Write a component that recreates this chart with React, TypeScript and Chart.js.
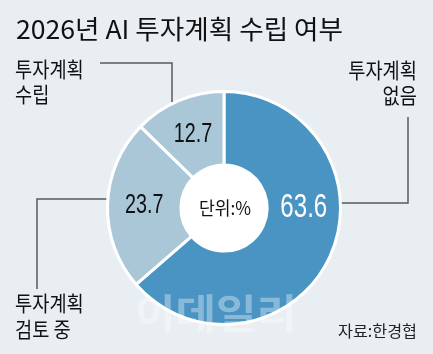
import React, { useEffect, useRef } from "react";
import { Chart, registerables } from "chart.js";

Chart.register(...registerables);

const categories = ["투자계획 없음", "투자계획 검토 중", "투자계획 수립"];
const values = [63.6, 23.7, 12.7];
const valueLabels = ["63.6", "23.7", "12.7"];
const titleText = "2026년 AI 투자계획 수립 여부";
const unitText = "단위:%";
const sourceText = "자료:한경협";
const watermarkText = "이데일리";

const BG = "#e9eef2";
const DARK = "#4a94c3";
const LIGHT = "#aac7d8";
const KR = '"Noto Sans CJK KR", "Noto Sans", sans-serif';
const NUM = '"Liberation Sans", Arial, sans-serif';

function drawText(
  ctx: CanvasRenderingContext2D,
  text: string,
  x: number,
  y: number,
  font: string,
  color: string,
  align: "left" | "right" | "center",
  scaleX: number
) {
  ctx.save();
  ctx.font = font;
  ctx.fillStyle = color;
  ctx.textBaseline = "middle";
  ctx.textAlign = align;
  ctx.translate(x, y);
  ctx.scale(scaleX, 1);
  ctx.fillText(text, 0, 0);
  ctx.restore();
}

function fitScale(ctx: CanvasRenderingContext2D, text: string, font: string, width: number) {
  ctx.save();
  ctx.font = font;
  const w = ctx.measureText(text).width;
  ctx.restore();
  return w > 0 ? width / w : 1;
}

const overlayPlugin = {
  id: "overlay",
  beforeDatasetsDraw(chart: any) {
    const ctx: CanvasRenderingContext2D = chart.ctx;
    const arc = chart.getDatasetMeta(0).data[0];
    if (!arc) return;
    const { x, y, innerRadius } = arc.getProps(["x", "y", "innerRadius"], true);
    ctx.save();
    ctx.fillStyle = "#ffffff";
    ctx.beginPath();
    ctx.arc(x, y, innerRadius + 1, 0, Math.PI * 2);
    ctx.fill();
    ctx.restore();
  },
  afterDatasetsDraw(chart: any) {
    const ctx: CanvasRenderingContext2D = chart.ctx;
    const meta = chart.getDatasetMeta(0);
    const a0 = meta.data[0];
    const { x: cx, y: cy, outerRadius: R } = a0.getProps(["x", "y", "outerRadius"], true);
    const Rl = R + 1.5;

    // Title
    const titleFont = `400 26px ${KR}`;
    drawText(ctx, titleText, 16, 29, titleFont, "#111", "left", fitScale(ctx, titleText, titleFont, 327));

    // leader lines
    ctx.save();
    ctx.strokeStyle = "#5a5a5a";
    ctx.lineWidth = 1.5;
    {
      const lx = 172;
      const sy = cy - Math.sqrt(Rl * Rl - (lx - cx) * (lx - cx));
      ctx.beginPath();
      ctx.moveTo(lx, sy);
      ctx.lineTo(lx, 63);
      ctx.lineTo(100, 63);
      ctx.stroke();
    }
    {
      const ly = 203;
      const sx = cx + Math.sqrt(Rl * Rl - (ly - cy) * (ly - cy));
      ctx.beginPath();
      ctx.moveTo(sx, ly);
      ctx.lineTo(408, ly);
      ctx.lineTo(408, 117);
      ctx.stroke();
    }
    {
      const ly = 199;
      const sx = cx - Math.sqrt(Rl * Rl - (ly - cy) * (ly - cy));
      ctx.beginPath();
      ctx.moveTo(sx, ly);
      ctx.lineTo(37, ly);
      ctx.lineTo(37, 289);
      ctx.stroke();
    }
    ctx.restore();

    // category labels
    const lblFont = `400 21px ${KR}`;
    const s = 0.89;
    const [c0, c1, c2] = categories.map((c) => c.split(" "));
    drawText(ctx, c2[0], 15, 69, lblFont, "#111", "left", s);
    drawText(ctx, c2.slice(1).join(" "), 15, 94, lblFont, "#111", "left", s);
    drawText(ctx, c0[0], 417, 70, lblFont, "#111", "right", s);
    drawText(ctx, c0.slice(1).join(" "), 417, 95, lblFont, "#111", "right", s);
    drawText(ctx, c1[0], 15, 303, lblFont, "#111", "left", s);
    drawText(ctx, c1.slice(1).join(" "), 15, 329, lblFont, "#111", "left", s);

    // value labels
    meta.data.forEach((el: any, i: number) => {
      const p = el.getProps(["x", "y", "startAngle", "endAngle", "innerRadius", "outerRadius"], true);
      let ang = (p.startAngle + p.endAngle) / 2;
      const big = values[i] === Math.max(...values);
      if (big) ang = 0;
      const rad = (p.innerRadius + p.outerRadius) / 2;
      const lx = p.x + Math.cos(ang) * rad;
      const ly = p.y + Math.sin(ang) * rad;
      const font = big ? `400 33px ${NUM}` : `400 27px ${NUM}`;
      drawText(ctx, valueLabels[i], lx, ly, font, big ? "#ffffff" : "#111", "center", 0.73);
    });

    // unit in center
    drawText(ctx, unitText, cx + 1, cy, `400 18px ${KR}`, "#111", "center", 0.95);

    // watermark
    const wmFont = `700 40px ${KR}`;
    ctx.save();
    ctx.globalAlpha = 0.35;
    drawText(ctx, watermarkText, 216, 313, wmFont, "#ffffff", "center", fitScale(ctx, watermarkText, wmFont, 162));
    ctx.restore();

    // source
    const srcFont = `400 16px ${KR}`;
    drawText(ctx, sourceText, 417, 331, srcFont, "#222", "right", fitScale(ctx, sourceText, srcFont, 79));
  },
};

export default function App() {
  const ref = useRef<HTMLCanvasElement | null>(null);
  useEffect(() => {
    if (!ref.current) return;
    const chart = new Chart(ref.current, {
      type: "doughnut",
      data: {
        labels: categories,
        datasets: [
          {
            data: values,
            backgroundColor: [DARK, LIGHT, LIGHT],
            borderColor: "#ffffff",
            borderWidth: 3,
            hoverOffset: 0,
          },
        ],
      },
      options: {
        responsive: false,
        animation: false,
        devicePixelRatio: 1,
        cutout: "37%",
        layout: { padding: { left: 106, right: 91, top: 90, bottom: 28 } },
        plugins: {
          legend: { display: false },
          tooltip: { enabled: false },
        },
        events: [],
      },
      plugins: [overlayPlugin],
    });
    return () => chart.destroy();
  }, []);
  return (
    <div
      style={{
        position: "fixed",
        left: 0,
        top: 0,
        width: 433,
        height: 354,
        background: BG,
      }}
    >
      <canvas ref={ref} width={433} height={354} style={{ display: "block" }} />
    </div>
  );
}
